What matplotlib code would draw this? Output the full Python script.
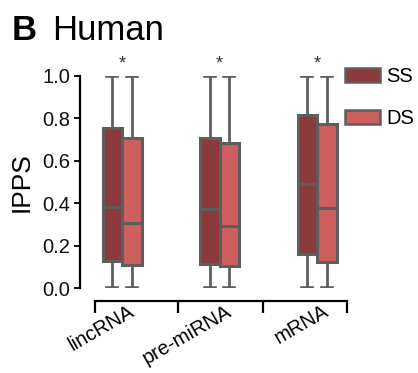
import matplotlib
matplotlib.use("Agg")
import matplotlib.pyplot as plt
from matplotlib.patches import Patch
from matplotlib.transforms import ScaledTranslation

plt.rcParams['font.family'] = ['Liberation Sans', 'DejaVu Sans']

categories = ["lincRNA", "pre-miRNA", "mRNA"]
series = ["SS", "DS"]
# quartiles / whiskers
ss_q1 = [0.129, 0.112, 0.160]
ss_med = [0.383, 0.371, 0.491]
ss_q3 = [0.753, 0.709, 0.816]
ds_q1 = [0.108, 0.104, 0.121]
ds_med = [0.308, 0.292, 0.376]
ds_q3 = [0.709, 0.682, 0.772]
whisker_lo = [0.0, 0.0, 0.0]
whisker_hi = [1.0, 1.0, 1.0]
significance = ["*", "*", "*"]
yticks = [0.0, 0.2, 0.4, 0.6, 0.8, 1.0]

colors = {"SS": "#8B3A3E", "DS": "#CD5F5E"}
edge = "#5e5e5e"

W, H = 418, 373
fig = plt.figure(figsize=(W / 100, H / 100), dpi=100)
ax = fig.add_axes([80 / W, 85 / H, 270 / W, 212 / H])

stats = {"SS": [], "DS": []}
for i in range(len(categories)):
    stats["SS"].append(dict(med=ss_med[i], q1=ss_q1[i], q3=ss_q3[i],
                            whislo=whisker_lo[i], whishi=whisker_hi[i], fliers=[]))
    stats["DS"].append(dict(med=ds_med[i], q1=ds_q1[i], q3=ds_q3[i],
                            whislo=whisker_lo[i], whishi=whisker_hi[i], fliers=[]))

offset = 0.1
bw = 0.2
for k, s in enumerate(series):
    pos = [i + (k - 0.5) * 2 * offset for i in range(len(categories))]
    ax.bxp(stats[s], positions=pos, widths=bw, patch_artist=True,
           showfliers=False,
           boxprops=dict(facecolor=colors[s], edgecolor=edge, linewidth=2.2),
           medianprops=dict(color=edge, linewidth=2.2),
           whiskerprops=dict(color=edge, linewidth=2.0),
           capprops=dict(color=edge, linewidth=2.6),
           capwidths=0.1, manage_ticks=False)

for i, t in enumerate(significance):
    ax.text(i, 1.058, t, ha="center", va="center", fontsize=13,
            color="#333333", clip_on=False)

ax.set_xlim(-0.431, 2.338)
ax.set_ylim(0, 1)

for sp in ["top", "right"]:
    ax.spines[sp].set_visible(False)
ax.spines["left"].set_bounds(0, 1)
ax.spines["left"].set_linewidth(1.6)
ax.spines["bottom"].set_linewidth(1.6)
ax.spines["bottom"].set_position(("outward", 9))
ax.spines["bottom"].set_bounds(-0.277, 2.308)

ax.set_yticks(yticks)
ax.set_yticklabels([f"{v:.1f}" for v in yticks])
ax.tick_params(axis="y", direction="out", length=4, width=1.4, labelsize=14.5,
               pad=3, colors="#111111")

ax.set_xticks(range(len(categories)))
ax.set_xticklabels(categories, rotation=30, ha="right", va="top")
ax.set_xticks([-0.277, 0.574, 1.446, 2.308], minor=True)
ax.tick_params(axis="x", which="major", length=0, labelsize=14.5, pad=1)
ax.tick_params(axis="x", which="minor", direction="out", length=8.6, width=1.6)
shift = ScaledTranslation(15 / 100, 0, fig.dpi_scale_trans)
for lab in ax.get_xticklabels():
    lab.set_transform(lab.get_transform() + shift)

ax.set_ylabel("IPPS", fontsize=19, labelpad=6)

handles = [Patch(facecolor=colors[s], edgecolor=edge, linewidth=1.8, label=s)
           for s in series]
leg = ax.legend(handles=handles, loc="upper left", bbox_to_anchor=(345 / W, 1 - 67 / H),
                bbox_transform=fig.transFigure, frameon=False, fontsize=14.5,
                handlelength=1.75, handleheight=0.65, handletextpad=0.3,
                labelspacing=1.15, borderaxespad=0, borderpad=0)

fig.text(12 / W, 1 - 40 / H, "B", fontsize=25, fontweight="bold", va="baseline")
fig.text(52 / W, 1 - 40 / H, "Human", fontsize=25, va="baseline")

fig.savefig("out.png", dpi=100)
